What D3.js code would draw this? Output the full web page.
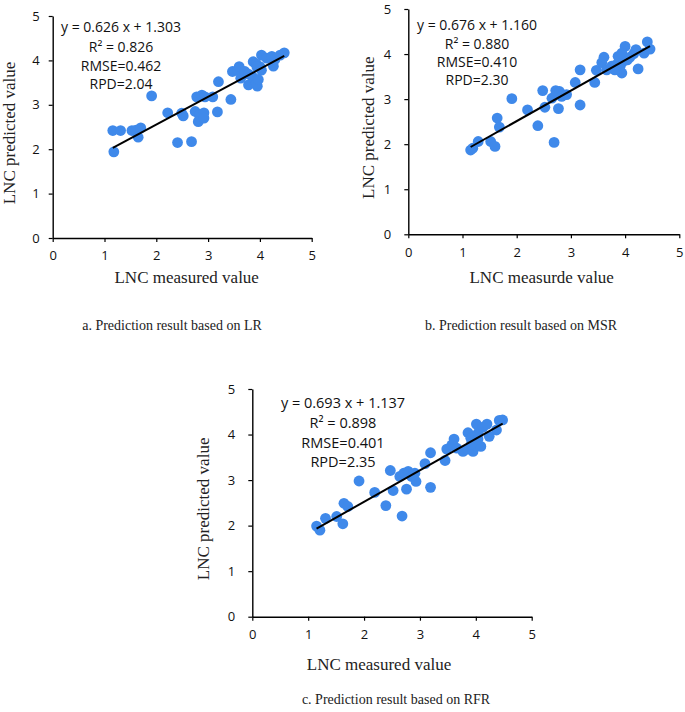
<!DOCTYPE html>
<html><head><meta charset="utf-8">
<script src="https://cdn.jsdelivr.net/npm/d3@7"></script>
<style>
body{margin:0;background:#fff;}
svg{display:block;}
</style></head>
<body>
<svg id="c" width="685" height="712"></svg>
<script>
// ---------- data ----------
const tickValues = [0, 1, 2, 3, 4, 5];

const lrMeasured  = [1.16,1.31,1.18,1.53,1.61,1.70,1.65,1.91,2.22,2.41,2.68,2.49,2.52,2.78,2.88,2.94,2.75,2.83,2.92,2.81,2.92,3.09,3.20,3.18,3.44,3.47,3.57,3.60,3.63,3.71,3.78,3.78,3.86,3.95,3.93,3.97,3.87,3.93,4.00,4.03,4.13,4.23,4.26,4.29,4.39,4.47,4.03,3.94];
const lrPredicted = [2.42,2.42,1.94,2.42,2.43,2.48,2.27,3.20,2.82,2.15,2.17,2.81,2.75,3.18,3.22,3.18,2.85,2.77,2.82,2.62,2.70,3.18,3.52,2.84,3.12,3.75,3.78,3.86,3.60,3.75,3.69,3.45,3.63,3.42,3.48,3.57,3.97,3.92,3.86,4.12,4.05,4.09,3.87,4.02,4.12,4.17,3.78,3.86];

const msrMeasured  = [1.15,1.19,1.29,1.52,1.60,1.64,1.68,1.91,2.20,2.39,2.48,2.52,2.69,2.65,2.72,2.79,2.77,2.83,2.92,3.08,3.17,3.17,3.44,3.47,3.57,3.61,3.66,3.75,3.83,3.87,3.91,3.94,3.97,4.00,4.04,4.09,4.16,4.20,4.24,4.35,4.41,4.46,3.94,3.81];
const msrPredicted = [1.87,1.91,2.06,2.06,1.95,2.58,2.38,3.01,2.76,2.41,3.19,2.82,2.04,3.02,3.19,3.17,2.79,3.06,3.10,3.37,3.65,2.87,3.37,3.64,3.81,3.93,3.65,3.73,3.76,3.95,3.73,3.58,3.84,4.17,3.87,3.93,4.01,4.10,3.67,4.02,4.27,4.11,4.02,3.65];

const rfrMeasured  = [1.15,1.21,1.31,1.51,1.62,1.64,1.71,1.91,2.19,2.39,2.47,2.52,2.68,2.64,2.71,2.79,2.76,2.85,2.91,2.93,3.09,3.19,3.19,3.45,3.48,3.57,3.61,3.66,3.77,3.85,3.86,3.91,3.95,4.00,4.01,4.04,4.09,4.13,4.20,4.24,4.37,4.42,4.48,3.92,4.04];
const rfrPredicted = [1.99,1.90,2.16,2.20,2.04,2.49,2.42,2.98,2.73,2.44,3.21,2.77,2.21,3.08,3.15,3.19,2.80,3.08,3.15,2.97,3.36,3.60,2.84,3.43,3.68,3.77,3.90,3.70,3.63,3.68,4.04,3.92,3.63,3.75,4.23,4.03,3.74,4.16,4.23,3.96,4.10,4.31,4.32,3.79,3.90];

const fitSlopes     = [0.626, 0.676, 0.693];
const fitIntercepts = [1.303, 1.160, 1.137];
const statLines = [
  ["y = 0.626 x + 1.303", "R\u00B2 = 0.826", "RMSE=0.462", "RPD=2.04"],
  ["y = 0.676 x + 1.160", "R\u00B2 = 0.880", "RMSE=0.410", "RPD=2.30"],
  ["y = 0.693 x + 1.137", "R\u00B2 = 0.898", "RMSE=0.401", "RPD=2.35"]
];
const yTitles = ["LNC predicted value", "LNC predicted value", "LNC predicted value"];
const xTitles = ["LNC measured value", "LNC measurde value", "LNC measured value"];
const captions = ["a. Prediction result based on LR", "b. Prediction result based on MSR", "c. Prediction result based on RFR"];

// ---------- layout (pixels) ----------
const layouts = [
  {x0:52.7, x1:311.7, y0:238, y1:16,  tickPad:9,  yTitleX:14.5, xTitleX:186.7, xTitleY:282.7, capX:172, capY:330,
   eqX:121, eqY:[32.3,52.3,70.5,88.5], eqSize:14, xs:lrMeasured, ys:lrPredicted},
  {x0:408.3, x1:679.3, y0:234.3, y1:9, tickPad:13, yTitleX:373.5, xTitleX:541.7, xTitleY:282.7, capX:521, capY:330,
   eqX:477, eqY:[30,48.5,66.5,84.5], eqSize:14, xs:msrMeasured, ys:msrPredicted},
  {x0:252.3, x1:531.7, y0:616.7, y1:389, tickPad:13, yTitleX:209, xTitleX:379, xTitleY:670, capX:396, capY:704,
   eqX:343, eqY:[408.3,427.5,447.5,467.3], eqSize:14.5, xs:rfrMeasured, ys:rfrPredicted}
];

const svg = d3.select("#c");
const tickFont = "'Open Sans', 'Liberation Sans', sans-serif";
const serif = "'Liberation Serif', 'Times New Roman', serif";

layouts.forEach((L, i) => {
  const x = d3.scaleLinear().domain([0,5]).range([L.x0, L.x1]);
  const y = d3.scaleLinear().domain([0,5]).range([L.y0, L.y1]);
  const g = svg.append("g");

  const xAxis = g.append("g").attr("transform", `translate(0,${L.y0})`)
    .call(d3.axisBottom(x).tickValues(tickValues).tickSizeInner(4).tickSizeOuter(0).tickPadding(9).tickFormat(d3.format("d")));
  const yAxis = g.append("g").attr("transform", `translate(${L.x0},0)`)
    .call(d3.axisLeft(y).tickValues(tickValues).tickSizeInner(4).tickSizeOuter(0).tickPadding(L.tickPad).tickFormat(d3.format("d")));
  [xAxis, yAxis].forEach(a => {
    a.select(".domain").attr("stroke", "#000").attr("stroke-width", 1.4);
    a.selectAll(".tick line").attr("stroke", "#000").attr("stroke-width", 1.2);
    a.selectAll(".tick text").attr("font-family", tickFont).attr("font-size", 13).attr("fill", "#111");
  });

  const pts = L.xs.map((v, k) => [v, L.ys[k]]);
  g.append("g").selectAll("circle").data(pts).join("circle")
    .attr("cx", d => x(d[0])).attr("cy", d => y(d[1])).attr("r", 5.4)
    .attr("fill", "#3f89ea");

  const xmin = d3.min(L.xs), xmax = d3.max(L.xs);
  const fx = v => fitSlopes[i] * v + fitIntercepts[i];
  g.append("line")
    .attr("x1", x(xmin)).attr("y1", y(fx(xmin)))
    .attr("x2", x(xmax)).attr("y2", y(fx(xmax)))
    .attr("stroke", "#000").attr("stroke-width", 2);

  statLines[i].forEach((t, k) => {
    g.append("text").attr("x", L.eqX).attr("y", L.eqY[k])
      .attr("text-anchor", "middle").attr("font-family", tickFont)
      .attr("font-size", L.eqSize).attr("fill", "#111").text(t);
  });

  g.append("text").attr("transform", `translate(${L.yTitleX},${(L.y0+L.y1)/2 + 6}) rotate(-90)`)
    .attr("text-anchor", "middle").attr("font-family", serif).attr("font-size", 17).attr("fill", "#222")
    .text(yTitles[i]);
  g.append("text").attr("x", L.xTitleX).attr("y", L.xTitleY)
    .attr("text-anchor", "middle").attr("font-family", serif).attr("font-size", 17).attr("fill", "#222")
    .text(xTitles[i]);
  g.append("text").attr("x", L.capX).attr("y", L.capY)
    .attr("text-anchor", "middle").attr("font-family", serif).attr("font-size", 14).attr("fill", "#222")
    .text(captions[i]);
});
</script>
</body></html>
